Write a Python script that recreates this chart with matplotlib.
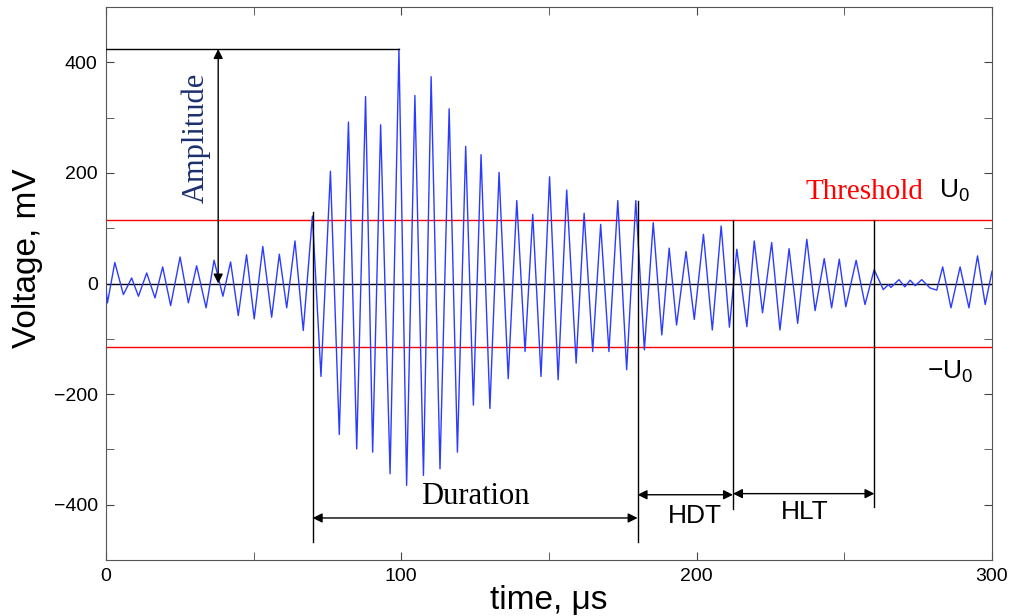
import numpy as np
import matplotlib
matplotlib.use('Agg')
import matplotlib.pyplot as plt

# waveform extrema (time in us, voltage in mV)
t_us = [0, 0.5, 3.0, 5.9, 8.7, 11.0, 13.8, 16.6, 19.2, 21.9, 25.1, 27.9, 30.7, 33.9,
        36.6, 39.6, 42.2, 44.8, 47.6, 50.2, 53.1, 56.1, 58.7, 61.2, 64.0, 66.8,
        69.9, 72.8, 76.0, 79.0, 82.1, 84.9, 87.9, 90.3, 93.0, 96.2, 99.2, 101.8,
        104.6, 107.5, 110.1, 113.1, 116.2, 119.0, 121.8, 124.4, 127.0, 130.0,
        133.1, 136.2, 139.1, 141.9, 144.5, 147.3, 150.2, 153.1, 156.0, 159.2,
        161.9, 164.8, 167.5, 170.3, 173.3, 176.3, 179.4, 182.3, 185.3, 188.2,
        190.7, 193.2, 196.4, 199.2, 202.3, 205.3, 208.3, 211.1, 213.6, 217.0,
        219.5, 222.3, 225.4, 228.2, 231.3, 234.2, 237.3, 240.1, 243.2, 245.7,
        248.3, 250.5, 254.0, 257.0, 260.1, 263.2, 264.9, 265.8, 268.5, 270.5,
        272.3, 274.0, 276.2, 279.0, 281.3, 283.3, 286.1, 289.2, 292.2, 295.1,
        297.7, 300.0]
volt_mv = [-10, -35, 38, -20, 10, -23, 19, -26, 30, -40, 48, -35, 32, -44,
           42, -23, 39, -58, 52, -64, 67, -61, 53, -44, 77, -85,
           122, -168, 203, -273, 292, -299, 338, -305, 287, -344, 424, -365,
           340, -347, 374, -335, 316, -305, 248, -220, 233, -226,
           201, -172, 150, -123, 125, -168, 193, -174, 169, -144,
           127, -123, 107, -123, 150, -156, 150, -120, 110, -93,
           64, -75, 58, -65, 89, -84, 104, -79, 62, -78,
           77, -53, 74, -84, 63, -72, 80, -49, 45, -44,
           44, -42, 42, -38, 25, -11, -2, -7, 7, -6,
           6, -4, 7, -8, -12, 30, -44, 30, -44, 50,
           -38, 22]

threshold = 115          # U0, mV
peak_time = 99.2
peak_value = 424
amp_arrow_time = 38
first_cross = 70.0       # start of duration
last_cross = 180.0       # end of duration
hdt_end = 212.3
hlt_end = 260.2

x_ticks = [0, 100, 200, 300]
y_ticks = [-400, -200, 0, 200, 400]

sans = 'Liberation Sans'
serif = 'Liberation Serif'
plt.rcParams['font.family'] = sans
plt.rcParams['mathtext.default'] = 'regular'

fig = plt.figure(figsize=(10.14, 6.16), dpi=100)
ax = fig.add_axes([0.1045, 0.0909, 0.8738, 0.8977])

ax.plot(t_us, volt_mv, color='#2b3cff', lw=1.0, zorder=3)

ax.axhline(0, color='k', lw=1.0, zorder=2)
ax.axhline(threshold, color='red', lw=1.0, zorder=2)
ax.axhline(-threshold, color='red', lw=1.0, zorder=2)

lk = dict(color='k', lw=1.0, zorder=4)
# amplitude marker
ax.plot([0, peak_time], [peak_value, peak_value], **lk)
arr = dict(arrowstyle='<|-|>', color='k', lw=1.0, shrinkA=0, shrinkB=0,
           mutation_scale=14)
ax.annotate('', xy=(amp_arrow_time, peak_value), xytext=(amp_arrow_time, 0),
            arrowprops=arr, zorder=5)
ax.text(30.5, 263, 'Amplitude', rotation=90, ha='center', va='center',
        family=serif, fontsize=22, color='#1c2f6e')

# event lines
ax.plot([first_cross, first_cross], [130, -467], **lk)
ax.plot([last_cross, last_cross], [150, -467], **lk)
ax.plot([hdt_end, hdt_end], [threshold, -407], **lk)
ax.plot([hlt_end, hlt_end], [threshold, -404], **lk)

ax.annotate('', xy=(first_cross, -424), xytext=(last_cross, -424), arrowprops=arr)
ax.annotate('', xy=(last_cross, -382), xytext=(hdt_end, -382), arrowprops=arr)
ax.annotate('', xy=(hdt_end, -380), xytext=(hlt_end, -380), arrowprops=arr)

ax.text(125, -386, 'Duration', ha='center', va='center', family=serif, fontsize=22)
ax.text(199.5, -420, 'HDT', ha='center', va='center', fontsize=19)
ax.text(236.5, -413, 'HLT', ha='center', va='center', fontsize=19)

ax.text(237, 166, 'Threshold', ha='left', va='center', family=serif, fontsize=21,
        color='red')
ax.text(282, 168, '$U_0$', ha='left', va='center', fontsize=19)
ax.text(278, -160, '$-U_0$', ha='left', va='center', fontsize=19)

ax.set_xlim(0, 300)
ax.set_ylim(-500, 500)
ax.set_xticks(x_ticks)
ax.set_xticks([50, 150, 250], minor=True)
ax.set_yticks(y_ticks)
ax.set_yticks([-500, -300, -100, 100, 300, 500], minor=True)
ax.set_yticklabels([str(v).replace('-', '\u2212') for v in y_ticks])
ax.tick_params(which='both', direction='in', top=True, right=True, length=6,
               labelsize=14, pad=6, color='#444444')
for s in ax.spines.values():
    s.set_color('#555555')

ax.set_xlabel('time, \u03bcs', fontsize=24)
ax.set_ylabel('Voltage, mV', fontsize=24)
ax.xaxis.set_label_coords(0.4995, -0.045)
ax.yaxis.set_label_coords(-0.089, 0.546)
ax.xaxis.label.set_va('top')
ax.yaxis.label.set_va('center')

fig.savefig('out.png', dpi=100)
